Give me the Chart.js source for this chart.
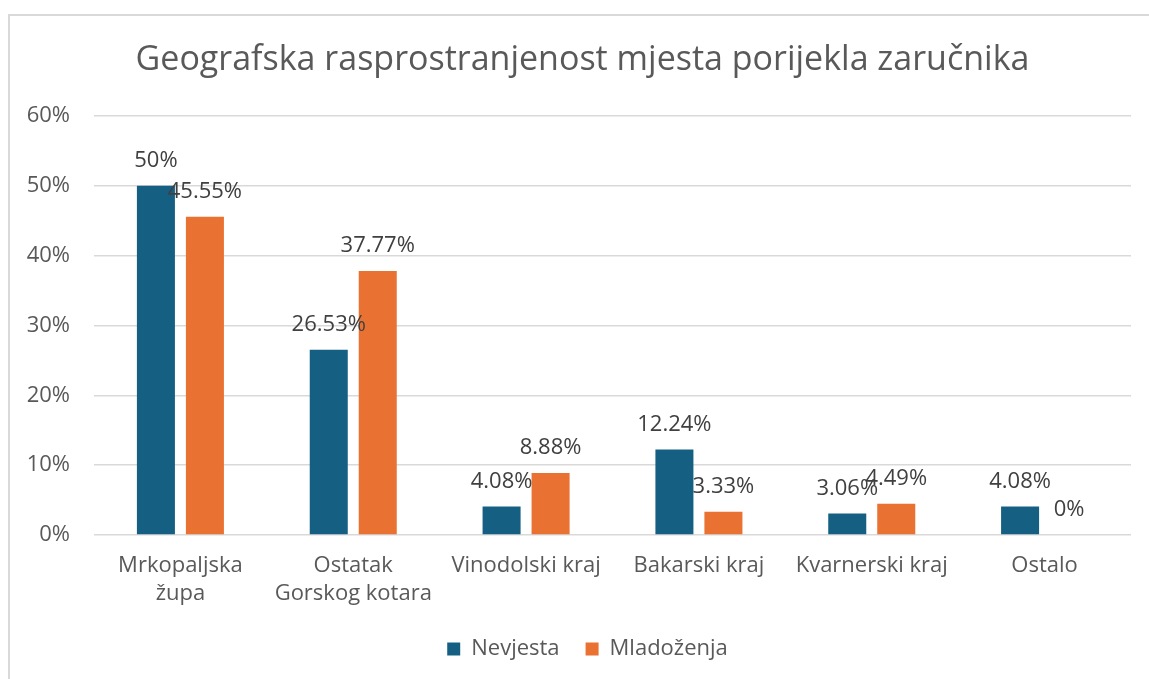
<!DOCTYPE html>
<html>
<head>
<meta charset="utf-8">
<script src="https://cdn.jsdelivr.net/npm/chart.js@4"></script>
<style>
  body { margin: 0; background: #fff; overflow: hidden; }
  #wrap { position: relative; width: 1149px; height: 679px; }
  #frame { position: absolute; left: 8px; top: 14px; width: 1200px; height: 800px; border: 2px solid #d9d9d9; box-sizing: border-box; }
  #myChart { position: absolute; left: 0; top: 0; }
</style>
</head>
<body>
<div id="wrap">
  <div id="frame"></div>
  <canvas id="myChart" width="1149" height="679"></canvas>
</div>
<script>
const categories = [['Mrkopaljska', 'župa'], ['Ostatak', 'Gorskog kotara'], 'Vinodolski kraj', 'Bakarski kraj', 'Kvarnerski kraj', 'Ostalo'];
const nevjesta = [50, 26.53, 4.08, 12.24, 3.06, 4.08];
const mladozenja = [45.55, 37.77, 8.88, 3.33, 4.49, 0];
const yTicks = [0, 10, 20, 30, 40, 50, 60];

const textColor = '#595959';
const fontName = '"Open Sans", sans-serif';

// labels above each bar, like excel's "outside end"
const barLabels = {
  id: 'barLabels',
  afterDatasetsDraw(chart) {
    const ctx = chart.ctx;
    ctx.save();
    ctx.font = '22px ' + fontName;
    ctx.fillStyle = '#404040';
    ctx.textAlign = 'center';
    ctx.textBaseline = 'middle';
    chart.data.datasets.forEach((ds, i) => {
      chart.getDatasetMeta(i).data.forEach((bar, j) => {
        ctx.fillText(ds.data[j] + '%', bar.x, bar.y - 25);
      });
    });
    ctx.restore();
  }
};

// title and legend sit a bit right of the canvas centre in the original
const nudgeBlocks = {
  id: 'nudgeBlocks',
  afterLayout(chart) {
    chart.legend.left += 44;
    chart.titleBlock.left += 34;
  }
};

new Chart(document.getElementById('myChart'), {
  type: 'bar',
  data: {
    labels: categories,
    datasets: [{
      label: 'Nevjesta',
      data: nevjesta,
      backgroundColor: '#156082',
      categoryPercentage: 0.567,
      barPercentage: 0.776
    }, {
      label: 'Mladoženja',
      data: mladozenja,
      backgroundColor: '#e97132',
      categoryPercentage: 0.567,
      barPercentage: 0.776
    }]
  },
  options: {
    responsive: false,
    animation: false,
    layout: { padding: { left: 0, right: 18, top: 0, bottom: 9 } },
    plugins: {
      title: {
        display: true,
        text: 'Geografska rasprostranjenost mjesta porijekla zaručnika',
        color: textColor,
        font: { family: fontName, size: 34, weight: 'normal' },
        padding: { top: 40, bottom: 35 }
      },
      legend: {
        position: 'bottom',
        labels: {
          color: textColor,
          font: { family: fontName, size: 22 },
          boxWidth: 13,
          boxHeight: 13,
          padding: 26
        }
      },
      tooltip: { enabled: false }
    },
    scales: {
      x: {
        grid: { display: false },
        border: { display: false },
        afterFit(scale) {
          scale.height = 77;
        },
        ticks: {
          color: textColor,
          font: { family: fontName, size: 22, lineHeight: 1.25 },
          padding: 9,
          maxRotation: 0
        }
      },
      y: {
        min: 0,
        max: 60,
        afterBuildTicks(scale) {
          scale.ticks = yTicks.map(v => ({ value: v }));
        },
        afterFit(scale) {
          scale.width = 94;
        },
        grid: { color: '#d9d9d9', lineWidth: 1.5, drawTicks: false },
        border: { display: false },
        ticks: {
          color: textColor,
          font: { family: fontName, size: 22 },
          padding: 24,
          callback: v => v + '%'
        }
      }
    }
  },
  plugins: [barLabels, nudgeBlocks]
});
</script>
</body>
</html>
